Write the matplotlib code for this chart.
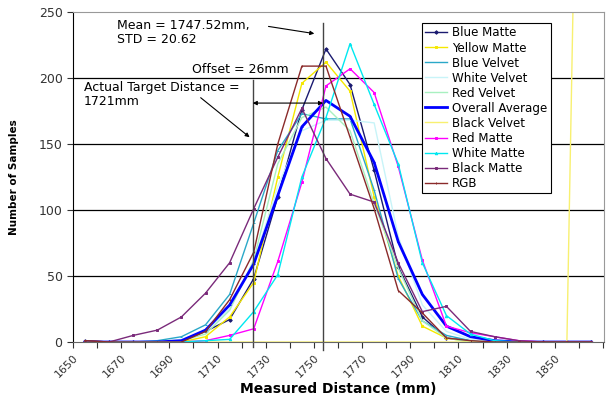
import numpy as np
import matplotlib
matplotlib.use("Agg")
import matplotlib.pyplot as plt

plt.rcParams["font.family"] = "DejaVu Sans"

# bin centres (mm)
distance = [1655, 1665, 1675, 1685, 1695, 1705, 1715, 1725, 1735, 1745, 1755,
            1765, 1775, 1785, 1795, 1805, 1815, 1825, 1835, 1845, 1855, 1865]

blue_matte = [1, 0, 0, 0, 1, 8, 17, 48, 110, 176, 222, 195, 130, 57, 19, 3, 1, 0, 0, 0, 0, 0]
yellow_matte = [0, 0, 0, 0, 0, 4, 19, 45, 125, 196, 212, 190, 110, 50, 12, 3, 0, 0, 0, 0, 0, 0]
blue_velvet = [0, 0, 0, 1, 4, 13, 36, 90, 145, 173, 169, 169, 115, 48, 16, 5, 1, 0, 0, 0, 0, 0]
white_velvet = [0, 0, 0, 0, 2, 8, 25, 60, 118, 160, 168, 168, 166, 80, 28, 8, 2, 0, 0, 0, 0, 0]
red_velvet = [0, 0, 0, 0, 1, 6, 24, 62, 135, 170, 178, 160, 105, 56, 16, 3, 0, 0, 0, 0, 0, 0]
overall_avg = [0, 0, 0, 0, 1, 9, 28, 59, 111, 163, 183, 171, 136, 76, 36, 12, 4, 1, 0, 0, 0, 0]
black_velvet = [0, 0, 0, 0, 0, 0, 0, 0, 0, 0, 0, 0, 0, 0, 0, 0, 0, 0, 0, 0, 0, 1000]
red_matte = [0, 0, 0, 0, 0, 1, 5, 10, 61, 121, 194, 207, 189, 133, 62, 12, 7, 4, 1, 0, 0, 0]
white_matte = [0, 0, 0, 0, 0, 1, 2, 23, 51, 125, 170, 226, 180, 135, 60, 20, 6, 1, 0, 0, 0, 0]
black_matte = [1, 0, 5, 9, 19, 37, 60, 101, 140, 177, 139, 112, 106, 60, 23, 27, 8, 4, 1, 0, 0, 0]
rgb = [1, 0, 0, 0, 0, 8, 32, 68, 150, 209, 209, 155, 101, 39, 22, 3, 1, 0, 0, 0, 0, 0]

series_names = ["Blue Matte", "Yellow Matte", "Blue Velvet", "White Velvet", "Red Velvet",
                "Overall Average", "Black Velvet", "Red Matte", "White Matte", "Black Matte", "RGB"]
series_values = [blue_matte, yellow_matte, blue_velvet, white_velvet, red_velvet,
                 overall_avg, black_velvet, red_matte, white_matte, black_matte, rgb]

x_tick_values = [1650, 1660, 1670, 1680, 1690, 1700, 1710, 1720, 1730, 1740, 1750,
                 1760, 1770, 1780, 1790, 1800, 1810, 1820, 1830, 1840, 1850, 1860, 1870]
x_tick_labels = ["1650", "", "1670", "", "1690", "", "1710", "", "1730", "", "1750",
                 "", "1770", "", "1790", "", "1810", "", "1830", "", "1850", "", ""]
y_ticks = [0, 50, 100, 150, 200, 250]

target_line_x = 1724.6
mean_line_x = 1753.8

# style per series: colour, marker, linewidth
styles = [
    ("#1a1a70", "D", 1.0),
    ("#f5e800", "s", 1.0),
    ("#2aa8c8", "_", 1.0),
    ("#c8f4f8", None, 1.0),
    ("#a8f0c0", None, 1.0),
    ("#0000ff", "_", 2.0),
    ("#f8f070", None, 1.0),
    ("#ff00ff", "s", 1.0),
    ("#00e8f0", "^", 1.0),
    ("#7a2a7a", "s", 1.0),
    ("#8a2a2a", "|", 1.0),
]

fig = plt.figure(figsize=(6.07, 4.01), dpi=100)
ax = fig.add_axes([73 / 607, 59 / 401, 531 / 607, 330 / 401])

for name, vals, (col, mk, lw) in zip(series_names, series_values, styles):
    ax.plot(distance, vals, color=col, lw=lw, marker=mk, markersize=1.8,
            markeredgewidth=0.7, label=name)

ax.set_xlim(1650, 1870.4)
ax.set_ylim(0, 250)

for v in y_ticks[1:-1]:
    ax.axhline(v, color="black", lw=0.9, zorder=0)

for side in ["top", "right"]:
    ax.spines[side].set_color("#999999")
ax.spines["left"].set_color("black")
ax.spines["bottom"].set_color("#666666")

ax.set_yticks(y_ticks)
ax.set_yticklabels([str(v) for v in y_ticks], fontsize=9, color="#333333")
ax.set_xticks(x_tick_values)
ax.set_xticklabels(x_tick_labels, fontsize=8, rotation=45, ha="right",
                   rotation_mode="anchor", color="#333333")
ax.tick_params(axis="both", direction="out", length=4, width=0.8, color="#333333")

ax.set_ylabel("Number of Samples", fontsize=7.5, fontweight="bold", labelpad=14)
ax.set_xlabel("Measured Distance (mm)", fontsize=10, fontweight="bold", labelpad=2)

# reference lines
ax.plot([target_line_x, target_line_x], [198.5, -4], color="#444444", lw=1, clip_on=False)
ax.plot([mean_line_x, mean_line_x], [242, -6], color="#444444", lw=1, clip_on=False)

ax.text(1668.3, 245, "Mean = 1747.52mm,\nSTD = 20.62", fontsize=9, va="top",
        ha="left", linespacing=1.1)
ax.annotate("", xy=(1751.3, 233.3), xytext=(1730, 239.4),
            arrowprops=dict(arrowstyle="-|>", color="black", lw=0.8, mutation_scale=6))
ax.text(1699.6, 206.8, "Offset = 26mm", fontsize=9, va="center", ha="left")
ax.annotate("", xy=(target_line_x, 181), xytext=(mean_line_x, 181),
            arrowprops=dict(arrowstyle="<|-|>", color="black", lw=0.8, mutation_scale=6,
                            shrinkA=0, shrinkB=0))
ax.text(1654.6, 198, "Actual Target Distance =\n1721mm", fontsize=9, va="top",
        ha="left", linespacing=1.1)
ax.annotate("", xy=(1724.2, 153.8), xytext=(1702.1, 186.4),
            arrowprops=dict(arrowstyle="-|>", color="black", lw=0.8, mutation_scale=6))

leg = ax.legend(loc="upper left", bbox_to_anchor=(0.657, 0.967), fontsize=8.6,
                frameon=True, fancybox=False, edgecolor="black", framealpha=1,
                labelspacing=0.17, handlelength=1.8, handletextpad=0.4,
                borderpad=0.3, borderaxespad=0)
leg.get_frame().set_linewidth(0.8)

fig.savefig("out.png", dpi=100)
